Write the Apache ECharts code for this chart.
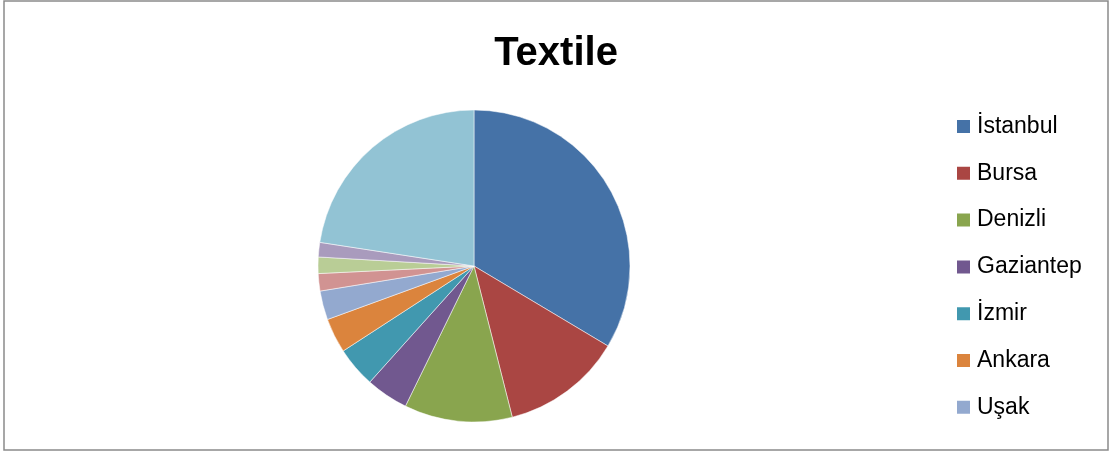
<!DOCTYPE html>
<html>
<head>
<meta charset="utf-8">
<script src="https://cdn.jsdelivr.net/npm/echarts@6/dist/echarts.min.js"></script>
<style>
  html, body { margin: 0; padding: 0; background: #ffffff; }
  #chart { width: 1109px; height: 451px; }
</style>
</head>
<body>
<div id="chart"></div>
<script>
// Share of textile firms by province (%)
const provinces = ['İstanbul', 'Bursa', 'Denizli', 'Gaziantep', 'İzmir', 'Ankara', 'Uşak',
                   'Kahramanmaraş', 'Tekirdağ', 'Kayseri', 'Diğer'];
const shares = [33.6, 12.5, 11.2, 4.4, 4.2, 3.6, 3.0, 1.8, 1.7, 1.5, 22.6];
// Only the first seven provinces fit in the legend box
const legendNames = provinces.slice(0, 7);
const palette = ['#4572A7', '#AA4643', '#89A54E', '#71588F', '#4198AF', '#DB843D',
                 '#93A9CF', '#D19392', '#B9CD96', '#A99BBD', '#92C3D4'];

const chart = echarts.init(document.getElementById('chart'), null, { renderer: 'canvas' });
chart.setOption({
  animation: false,
  color: palette,
  title: {
    text: 'Textile',
    left: 556,
    textAlign: 'center',
    top: 34,
    padding: 0,
    textStyle: {
      fontFamily: 'Liberation Sans',
      fontWeight: 'bold',
      fontSize: 40,
      color: '#000000'
    }
  },
  legend: {
    data: legendNames,
    orient: 'vertical',
    left: 955,
    top: 115,
    height: 330,
    itemWidth: 15,
    itemHeight: 15,
    itemGap: 23.8,
    icon: 'rect',
    padding: 0,
    textStyle: {
      fontFamily: 'Liberation Sans',
      fontSize: 23,
      color: '#000000',
      padding: [0, 0, 0, 1]
    }
  },
  graphic: [{
    type: 'rect',
    shape: { x: 4, y: 1, width: 1104, height: 449 },
    style: { fill: 'none', stroke: '#8a8a8a', lineWidth: 1.5 },
    silent: true,
    z: 100
  }],
  series: [{
    type: 'pie',
    center: [474, 266],
    radius: 156,
    startAngle: 90,
    clockwise: true,
    label: { show: false },
    labelLine: { show: false },
    emphasis: { disabled: true },
    itemStyle: { borderColor: '#ffffff', borderWidth: 0.5 },
    data: provinces.map((name, i) => ({ name: name, value: shares[i] }))
  }]
});
</script>
</body>
</html>
